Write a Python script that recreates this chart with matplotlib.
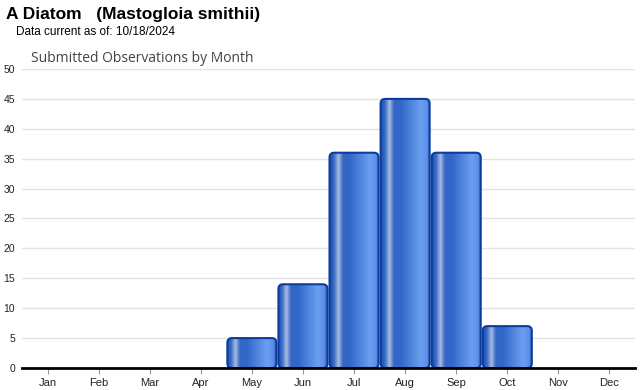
import numpy as np
import matplotlib.pyplot as plt
from matplotlib.colors import LinearSegmentedColormap
from matplotlib.patches import FancyBboxPatch

# dados do grafico
meses = ["Jan", "Feb", "Mar", "Apr", "May", "Jun", "Jul", "Aug", "Sep", "Oct", "Nov", "Dec"]
observacoes = [0, 0, 0, 0, 5, 14, 36, 45, 36, 7, 0, 0]
y_ticks = [0, 5, 10, 15, 20, 25, 30, 35, 40, 45, 50]

titulo = "A Diatom   (Mastogloia smithii)"
subtitulo = "Data current as of: 10/18/2024"
titulo_grafico = "Submitted Observations by Month"

# gradiente horizontal das barras
cores = [(0.0, "#1c4fb0"), (0.08, "#3a6bc8"), (0.17, "#a9bde0"), (0.26, "#3566c6"),
         (0.40, "#3168c8"), (0.80, "#6c9ff0"), (0.92, "#5d90e8"), (1.0, "#2b5bc0")]
cmap = LinearSegmentedColormap.from_list("barra", cores)
grad = np.linspace(0, 1, 256).reshape(1, -1)

plt.rcParams['font.family'] = ['Liberation Sans', 'DejaVu Sans']
fig = plt.figure(figsize=(6.4, 3.9), dpi=100)
ax = fig.add_axes([22 / 640, 1 - 368 / 390, 613 / 640, 299 / 390])

x = np.arange(len(meses))
largura = 0.96
# 1 unidade em x ~ 51 px, 1 unidade em y ~ 6 px
aspecto = 8.5
for xi, v in zip(x, observacoes):
    if v <= 0:
        continue
    x0 = xi - largura / 2
    caixa = FancyBboxPatch((x0, 0), largura, v, boxstyle="round,pad=0,rounding_size=0.09",
                           mutation_aspect=aspecto, facecolor="none", edgecolor="#0c3d9c",
                           linewidth=1.5, zorder=3)
    ax.add_patch(caixa)
    im = ax.imshow(grad, cmap=cmap, aspect="auto", extent=(x0, x0 + largura, 0, v),
                   zorder=2, interpolation="bilinear")
    im.set_clip_path(caixa)

ax.set_xlim(-0.5, 11.5)
ax.set_ylim(0, 50)
ax.set_xticks(x)
ax.set_xticklabels(meses, fontsize=8, color="#222222")
ax.set_yticks(y_ticks)
ax.set_yticklabels([str(t) for t in y_ticks], fontsize=7.5, color="#222222")
ax.tick_params(axis="y", length=0, pad=5)
ax.tick_params(axis="x", length=4, color="#999999", pad=3)
ax.grid(axis="y", color="#e3e3e3", linewidth=1, zorder=0)
ax.set_axisbelow(True)
for lado in ["top", "right", "left"]:
    ax.spines[lado].set_visible(False)
ax.spines["bottom"].set_linewidth(2)
ax.spines["bottom"].set_color("black")
ax.spines["bottom"].set_zorder(5)

fig.text(6 / 640, 1 - 14 / 390, titulo, fontsize=12.5, fontweight="bold", va="center", ha="left")
fig.text(16 / 640, 1 - 32 / 390, subtitulo, fontsize=8.5, va="center", ha="left")
fig.text(31 / 640, 1 - 58 / 390, titulo_grafico, fontsize=10, color="#444444",
         family="Open Sans", va="center", ha="left")

fig.savefig("out.png", dpi=100)
